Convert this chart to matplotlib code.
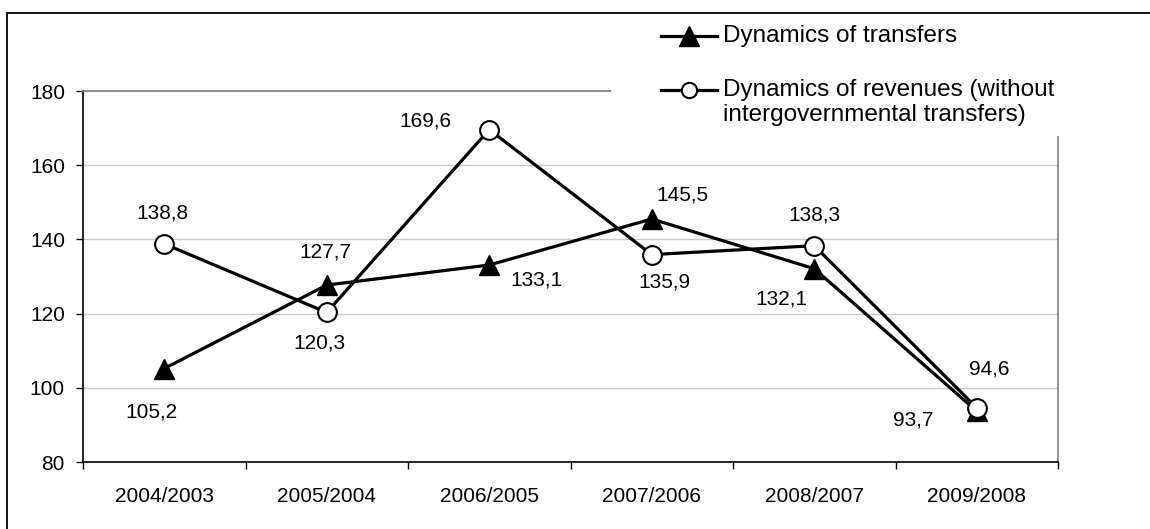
import matplotlib
matplotlib.use("Agg")
import matplotlib.pyplot as plt
from matplotlib.lines import Line2D
from matplotlib.patches import Rectangle
import numpy as np

plt.rcParams['font.family'] = ['Liberation Sans', 'DejaVu Sans']

periods = ["2004/2003", "2005/2004", "2006/2005", "2007/2006", "2008/2007", "2009/2008"]
transfers = [105.2, 127.7, 133.1, 145.5, 132.1, 93.7]
revenues = [138.8, 120.3, 169.6, 135.9, 138.3, 94.6]
y_ticks = [80, 100, 120, 140, 160, 180]
legend_labels = ["Dynamics of transfers",
                 "Dynamics of revenues (without\nintergovernmental transfers)"]

# label offsets in points (dx, dy) for each value label
transfer_offsets = [(-9, -31), (-1, 24), (34, -11), (22, 17), (-24, -22), (-46, -6)]
revenue_offsets = [(-1, 22), (-5, -22), (-46, 6), (9, -20), (0, 22), (9, 28)]

W, H = 1150, 529
fig = plt.figure(figsize=(W / 100, H / 100), dpi=100)
ax = fig.add_axes([83 / W, 1 - 462 / H, (1058 - 83) / W, (462 - 91) / H])

x = np.arange(len(periods))
ax.plot(x, transfers, color='black', lw=2.3, marker='^', markersize=15,
        markerfacecolor='black', markeredgecolor='black', zorder=3)
ax.plot(x, revenues, color='black', lw=2.3, marker='o', markersize=13.5,
        markerfacecolor='white', markeredgecolor='black', markeredgewidth=1.5,
        zorder=4)

for xi, v, (dx, dy) in zip(x, transfers, transfer_offsets):
    ax.annotate(f"{v:.1f}".replace('.', ','), (xi, v), xytext=(dx, dy),
                textcoords='offset points', ha='center', va='center', fontsize=15)
for xi, v, (dx, dy) in zip(x, revenues, revenue_offsets):
    ax.annotate(f"{v:.1f}".replace('.', ','), (xi, v), xytext=(dx, dy),
                textcoords='offset points', ha='center', va='center', fontsize=15)

ax.set_xlim(-0.5, len(periods) - 0.5)
ax.set_ylim(80, 180)
ax.set_yticks(y_ticks)
ax.set_xticks(x)
ax.set_xticklabels(periods)
ax.set_xticks(np.arange(-0.5, len(periods), 1.0), minor=True)
ax.tick_params(axis='x', which='major', length=0, pad=18, labelsize=15)
ax.tick_params(axis='x', which='minor', length=5, width=1, direction='out')
ax.tick_params(axis='y', length=5, width=1, direction='out', pad=8, labelsize=15)

ax.grid(axis='y', color='#c8c8c8', lw=1)
ax.set_axisbelow(True)
for side in ('left', 'bottom'):
    ax.spines[side].set_color('black')
    ax.spines[side].set_linewidth(1.2)
for side in ('top', 'right'):
    ax.spines[side].set_color('#808080')
    ax.spines[side].set_linewidth(1.2)

# outer chart frame
fig.add_artist(Rectangle((7 / W, -0.05), 1.2, 1 - 13 / H + 0.05,
                         transform=fig.transFigure, fill=False,
                         edgecolor='black', lw=1.3))

# legend block with white background
fig.add_artist(Rectangle((611 / W, 1 - 136 / H), (W - 611) / W + 0.01,
                         (136 - 15) / H, transform=fig.transFigure,
                         facecolor='white', edgecolor='none', zorder=5))
handle_styles = [dict(marker='^', markersize=15, markerfacecolor='black'),
                 dict(marker='o', markersize=11, markerfacecolor='white',
                      markeredgewidth=1.5)]
rows = [36, 90]
for style, label, yr in zip(handle_styles, legend_labels, rows):
    yf = 1 - yr / H
    fig.add_artist(Line2D([661 / W, 717 / W], [yf, yf], transform=fig.transFigure,
                          color='black', lw=2.3, zorder=6))
    fig.add_artist(Line2D([689 / W], [yf], transform=fig.transFigure,
                          color='black', markeredgecolor='black', lw=0, zorder=7,
                          **style))
    fig.text(723 / W, yf + 11 / H, label, ha='left', va='top', fontsize=17.5,
             zorder=8, linespacing=1.2)

fig.savefig("out.png", dpi=100)
